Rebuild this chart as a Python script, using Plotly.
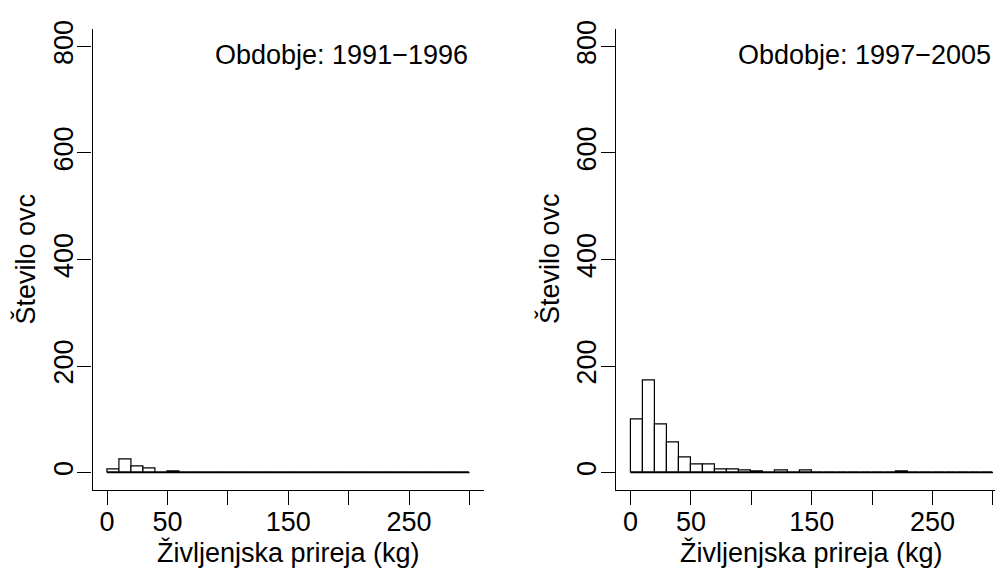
import plotly.graph_objects as go

# ---- data ----
bin_start = 0
bin_width = 10
n_bins = 30
counts_1991_1996 = [6, 25, 11, 8, 0, 2, 1, 0, 0, 0,
                    0, 0, 0, 0, 0, 0, 0, 0, 0, 0,
                    0, 0, 0, 0, 0, 0, 0, 0, 0, 0]
counts_1997_2005 = [99, 173, 91, 56, 28, 16, 16, 6, 6, 5,
                    3, 1, 4, 1, 4, 1, 0, 0, 0, 0,
                    0, 0, 2, 0, 0, 0, 0, 0, 0, 0]
panel_titles = ["Obdobje: 1991\u22121996", "Obdobje: 1997\u22122005"]
x_tickvals = [0, 50, 100, 150, 200, 250, 300]
x_ticktext = ["0", "50", "", "150", "", "250", ""]
y_tickvals = [0, 200, 400, 600, 800]
x_title = "Življenjska prireja (kg)"
y_title = "Število ovc"

W, H = 995, 574
FONT = "Liberation Sans, Arial, sans-serif"
FS = 27
PXU = 1.2083  # px per x unit

centers = [bin_start + bin_width * (i + 0.5) for i in range(n_bins)]
edge_lo = bin_start
edge_hi = bin_start + bin_width * n_bins

fig = go.Figure()

panels = [
    dict(counts=counts_1991_1996, xa="x", ya="y", dom=(92.5 / W, 484 / W), rng=[-12, 312]),
    dict(counts=counts_1997_2005, xa="x2", ya="y2", dom=(616 / W, 1.0), rng=[-12, 301.7]),
]
ydom = [(H - 488.3) / H, (H - 20.7) / H]

for i, p in enumerate(panels):
    fig.add_trace(go.Bar(
        x=centers, y=p["counts"], width=[bin_width] * n_bins,
        marker=dict(color="white", line=dict(color="black", width=1.2)),
        xaxis=p["xa"], yaxis=p["ya"], showlegend=False, hoverinfo="x+y",
    ))
    # baseline along the histogram's bin range
    fig.add_trace(go.Scatter(
        x=[edge_lo, edge_hi], y=[0, 0], mode="lines",
        line=dict(color="black", width=1.2),
        xaxis=p["xa"], yaxis=p["ya"], showlegend=False, hoverinfo="skip",
    ))
    fig.add_annotation(
        x=300, y=783, xref=p["xa"], yref=p["ya"], text=panel_titles[i],
        showarrow=False, xanchor="right", yanchor="middle",
        font=dict(family=FONT, size=FS, color="black"),
    )
    # axis titles
    fig.add_annotation(
        x=p["dom"][0] + (12 + 150) * PXU / W,
        y=(H - 552) / H, xref="paper", yref="paper", text=x_title,
        showarrow=False, xanchor="center", yanchor="middle",
        font=dict(family=FONT, size=FS, color="black"),
    )
    fig.add_annotation(
        x=(p["dom"][0] * W - 67) / W, y=(H - 254) / H, xref="paper", yref="paper",
        text=y_title, textangle=-90, showarrow=False, xanchor="center", yanchor="middle",
        font=dict(family=FONT, size=FS, color="black"),
    )

axis_common = dict(showgrid=False, zeroline=False, showline=True, linecolor="black",
                   linewidth=1.3, ticks="outside", ticklen=14, tickwidth=1.3,
                   tickcolor="black", tickfont=dict(family=FONT, size=FS, color="black"),
                   ticklabelstandoff=-6, fixedrange=True)

fig.update_layout(
    width=W, height=H, margin=dict(l=0, r=0, t=0, b=0),
    paper_bgcolor="white", plot_bgcolor="white", bargap=0,
    xaxis=dict(domain=list(panels[0]["dom"]), range=panels[0]["rng"], anchor="y",
               tickvals=x_tickvals, ticktext=x_ticktext, **axis_common),
    yaxis=dict(domain=ydom, range=[-32, 832], anchor="x", tickvals=y_tickvals,
               tickangle=-90, **axis_common),
    xaxis2=dict(domain=list(panels[1]["dom"]), range=panels[1]["rng"], anchor="y2",
                tickvals=x_tickvals, ticktext=x_ticktext, **axis_common),
    yaxis2=dict(domain=ydom, range=[-32, 832], anchor="x2", tickvals=y_tickvals,
                tickangle=-90, **axis_common),
)

fig.write_html("out.html")
